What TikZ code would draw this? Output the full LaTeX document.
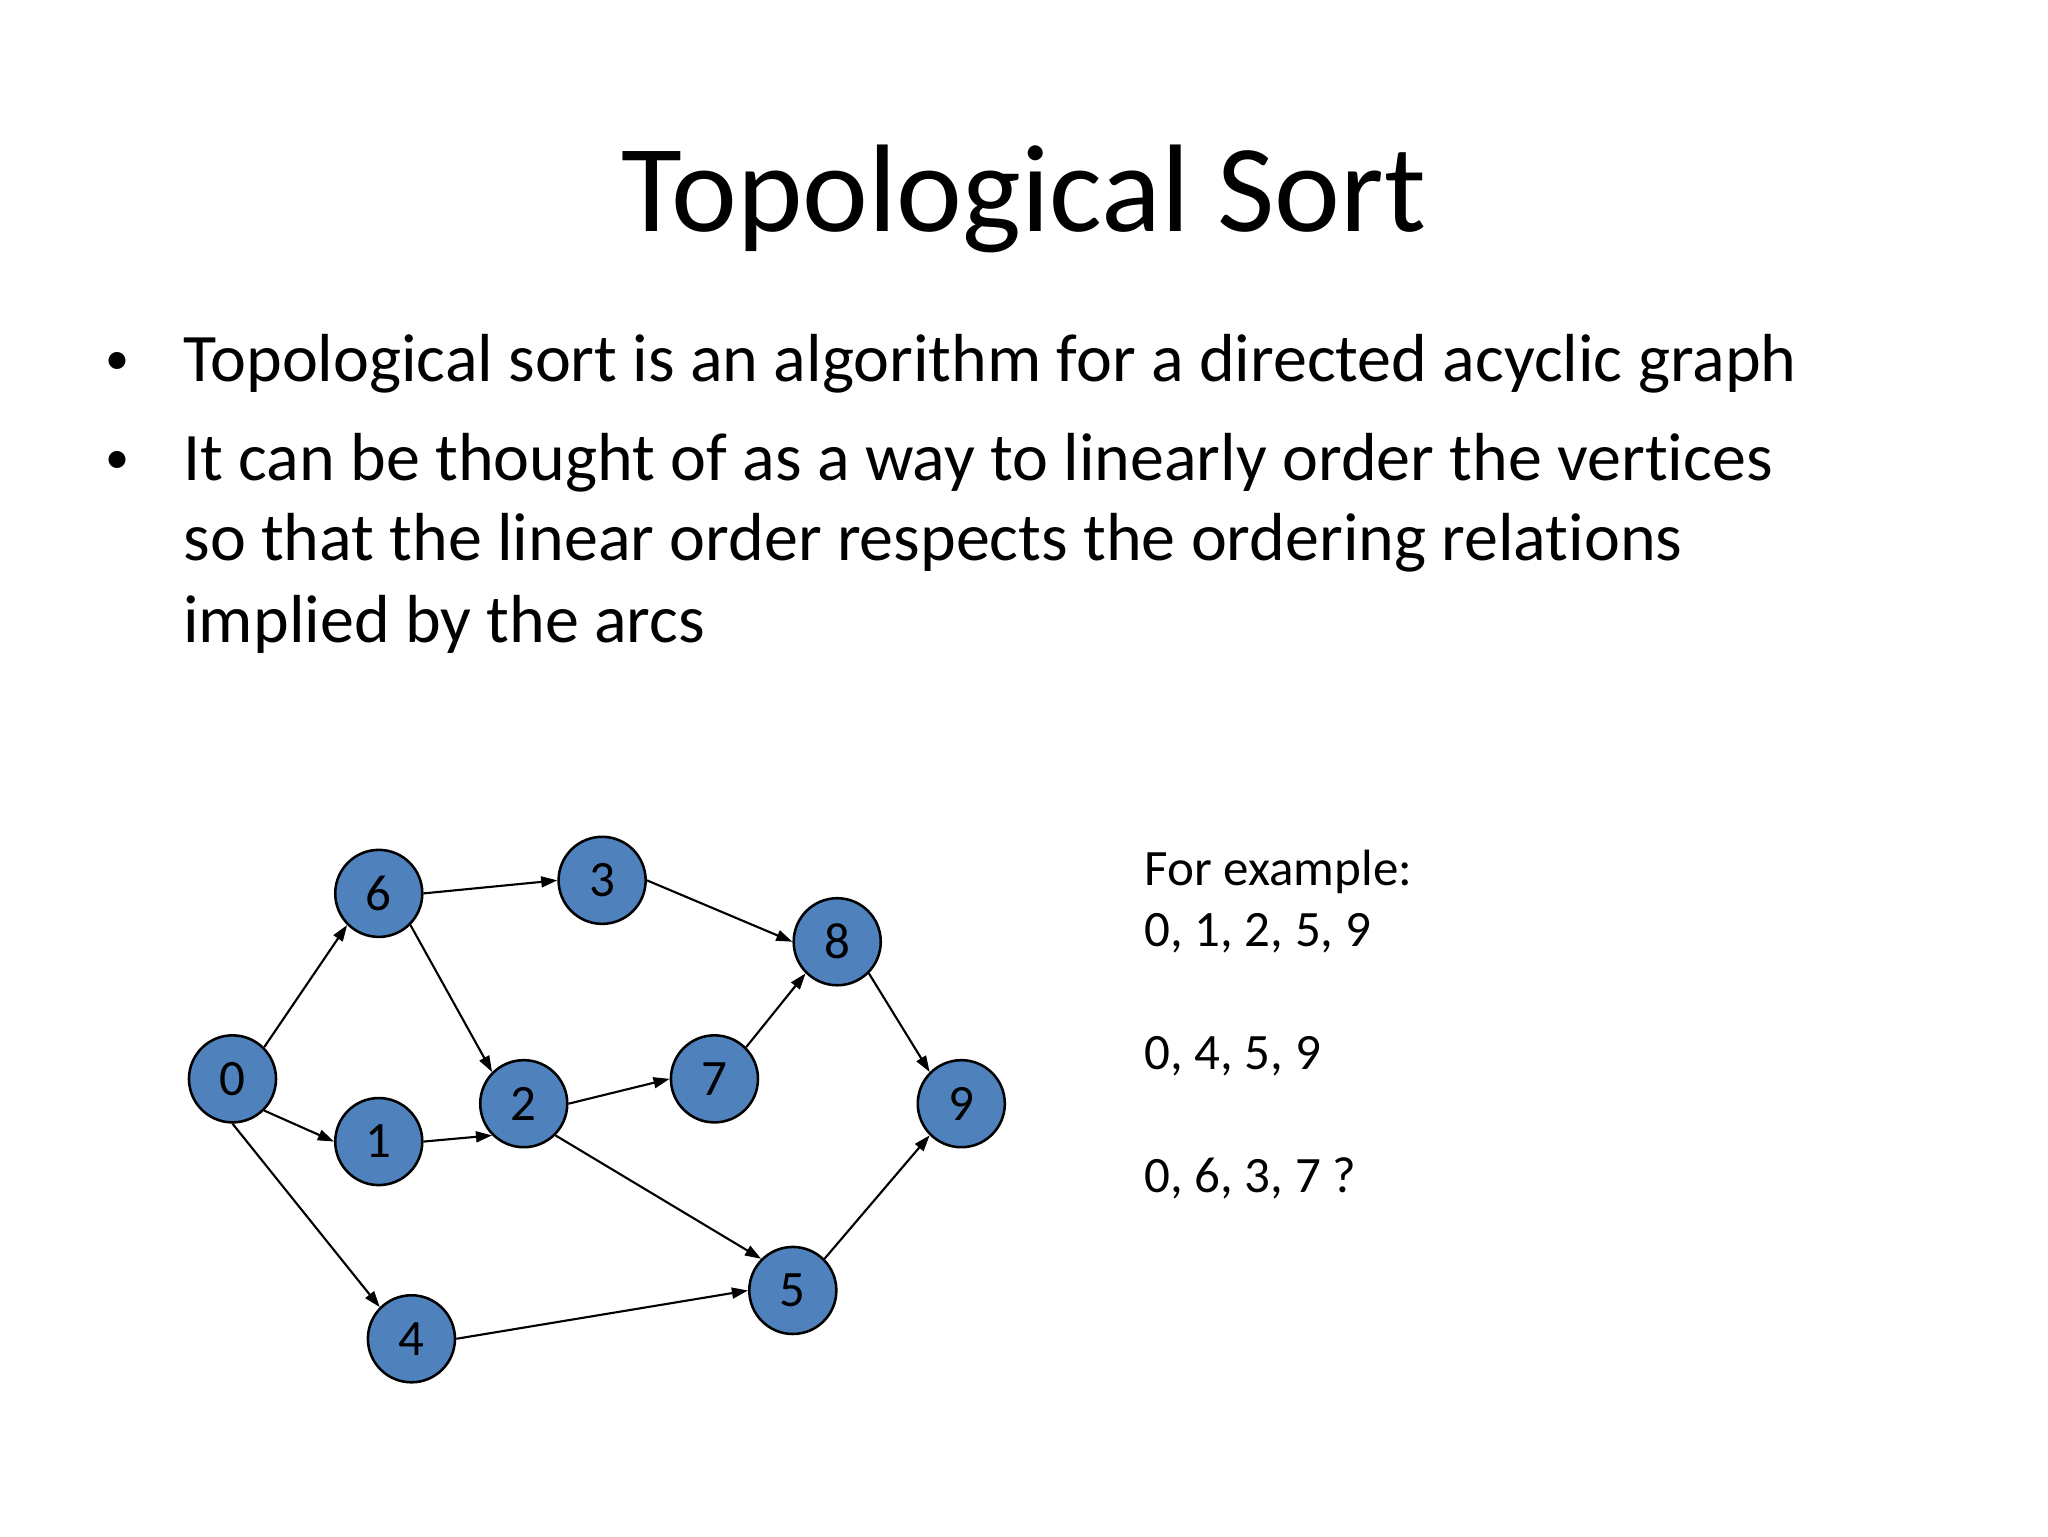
\documentclass[tikz,border=0pt]{standalone}
\usepackage{fontspec}
\setmainfont{Carlito}[Ligatures=NoCommon]
\usetikzlibrary{arrows.meta,positioning}
\definecolor{vertexblue}{RGB}{79,129,189}

\begin{document}
\begin{tikzpicture}[x=0.016199cm,y=-0.016199cm,>={Triangle[length=2mm,width=1.35mm]},
    vertex/.style={circle,draw=black,line width=0.9pt,fill=vertexblue,minimum size=1.08cm,
                   inner sep=0pt,font=\fontsize{18}{21.6}\selectfont},
    arc/.style={->,line width=0.75pt},
    body/.style={inner sep=0pt,anchor=base west,font=\fontsize{24}{28.8}\selectfont},
    bullet/.style={inner sep=0pt,anchor=base,font=\fontsize{17}{20}\selectfont},
    small/.style={inner sep=0pt,anchor=base west,font=\fontsize{18}{21.8}\selectfont}]
  \fill[white] (0,0) rectangle (1568,1176);
  \useasboundingbox (0,0) rectangle (1568,1176);
  % title and bullets
  \node[inner sep=0pt,anchor=base,font=\fontsize{44}{52.8}\selectfont] (title) at (784,177) {Topological Sort};
  \node[bullet] (dot1) at (90,287) {\textbullet};
  \node[body] (line1) at (140,292) {Topological sort is an algorithm for a directed acyclic graph};
  \node[bullet] (dot2) at (90,362.5) {\textbullet};
  \node[body] (line2) at (140,367.5) {It can be thought of as a way to linearly order the vertices};
  \node[body] (line3) at (140,429.5) {so that the linear order respects the ordering relations};
  \node[body] (line4) at (140,492) {implied by the arcs};
  % graph
  \node[vertex] (v0) at (178,826) {0};
  \node[vertex] (v6) at (290,684) {6};
  \node[vertex] (v3) at (461,674) {3};
  \node[vertex] (v8) at (641,721) {8};
  \node[vertex] (v1) at (290,874) {1};
  \node[vertex] (v2) at (401,845) {2};
  \node[vertex] (v7) at (547,826) {7};
  \node[vertex] (v9) at (736,845) {9};
  \node[vertex] (v5) at (607,988) {5};
  \node[vertex] (v4) at (315,1025) {4};
  \draw[arc] (v0.north east) -- (v6.south west);
  \draw[arc] (v0.south east) -- (v1.west);
  \draw[arc] (v0.south) -- (v4.north west);
  \draw[arc] (v6.east) -- (v3.west);
  \draw[arc] (v6.south east) -- (v2.north west);
  \draw[arc] (v1.east) -- (v2.south west);
  \draw[arc] (v2.east) -- (v7.west);
  \draw[arc] (v2.south east) -- (v5.north west);
  \draw[arc] (v3.east) -- (v8.west);
  \draw[arc] (v7.north east) -- (v8.south west);
  \draw[arc] (v8.south east) -- (v9.north west);
  \draw[arc] (v4.east) -- (v5.west);
  \draw[arc] (v5.north east) -- (v9.south west);
  % example orders
  \node[small] (ex0) at (876,678) {For example:};
  \node[small] (ex1) at (876,725) {0, 1, 2, 5, 9};
  \node[small] (ex2) at (876,819) {0, 4, 5, 9};
  \node[small] (ex3) at (876,913) {0, 6, 3, 7 ?};
\end{tikzpicture}
\end{document}
